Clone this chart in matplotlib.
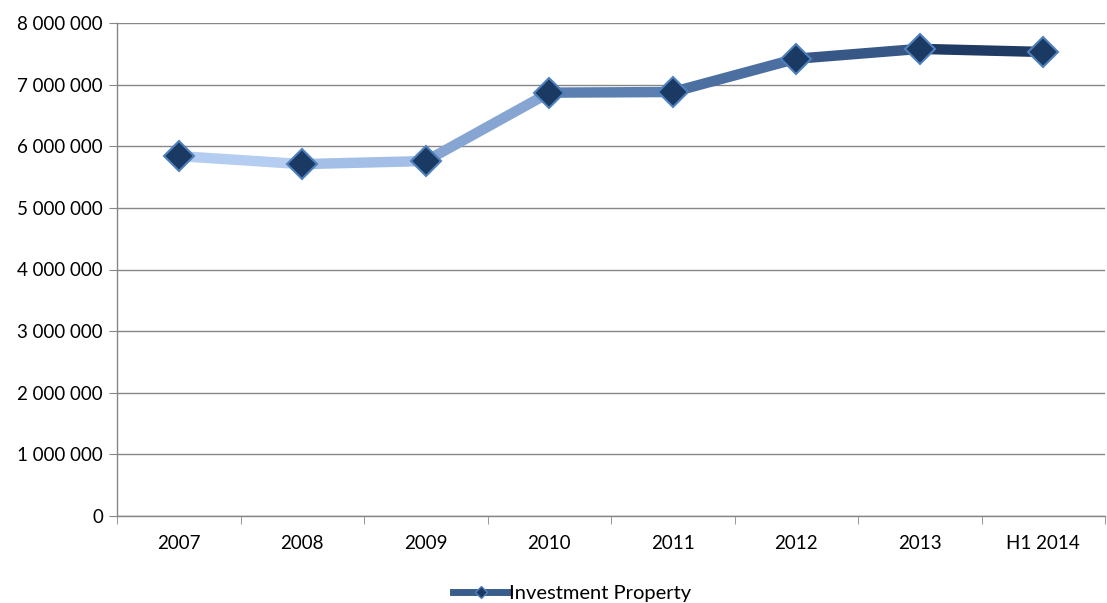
import matplotlib.pyplot as plt
import matplotlib.ticker as ticker
import numpy as np
from matplotlib.colors import LinearSegmentedColormap
from matplotlib.lines import Line2D

plt.rcParams['font.family'] = ['Lato', 'DejaVu Sans']

# data
categories = ['2007', '2008', '2009', '2010', '2011', '2012', '2013', 'H1 2014']
values = [5840000, 5710000, 5760000, 6870000, 6880000, 7420000, 7580000, 7530000]
y_ticks = [0, 1000000, 2000000, 3000000, 4000000, 5000000, 6000000, 7000000, 8000000]

# light-to-dark gradient along the series
cmap = LinearSegmentedColormap.from_list('inv', ['#b4cdf0', '#9cb8e3', '#5b7fb0', '#44679a', '#1f3a63'])

fig = plt.figure(figsize=(11.07, 6.03), dpi=100)
ax = fig.add_axes([117 / 1107, 87 / 603, 988 / 1107, 493 / 603])

x = np.arange(len(categories))
nseg = len(values) - 1
for i in range(nseg):
    ax.plot(x[i:i + 2], values[i:i + 2], color=cmap(i / (nseg - 1)), lw=7.5,
            solid_capstyle='round', zorder=3)
ax.plot(x, values, linestyle='none', marker='D', markersize=15,
        markerfacecolor='#1b3a63', markeredgecolor='#4f81bd', markeredgewidth=1.5, zorder=4)

ax.set_xlim(-0.5, len(categories) - 0.5)
ax.set_ylim(0, 8000000)
ax.set_yticks(y_ticks)
ax.yaxis.set_major_formatter(ticker.FuncFormatter(lambda v, p: f'{int(v):,}'.replace(',', ' ')))
ax.set_xticks(x)
ax.set_xticklabels(categories)
ax.set_xticks(np.arange(-0.5, len(categories)), minor=True)
ax.tick_params(axis='x', which='major', length=0, pad=14, labelsize=13.5)
ax.tick_params(axis='x', which='minor', length=6, color='#868686', direction='out')
ax.tick_params(axis='y', length=6, color='#868686', direction='out', labelsize=13.5, pad=4)

ax.grid(axis='y', color='#868686', lw=1)
ax.set_axisbelow(True)
for side in ['top', 'right']:
    ax.spines[side].set_visible(False)
for side in ['left', 'bottom']:
    ax.spines[side].set_color('#868686')
    ax.spines[side].set_linewidth(1)

handle = Line2D([], [], color='#3a5e8c', lw=5, marker='D', markersize=6,
                markerfacecolor='#1b3a63', markeredgecolor='#4f81bd')
fig.legend([handle], ['Investment Property'], loc='center', bbox_to_anchor=(0.517, 0.016),
           frameon=False, fontsize=14.5, handlelength=2.8, handletextpad=0.0)

fig.savefig('out.png', dpi=100)
